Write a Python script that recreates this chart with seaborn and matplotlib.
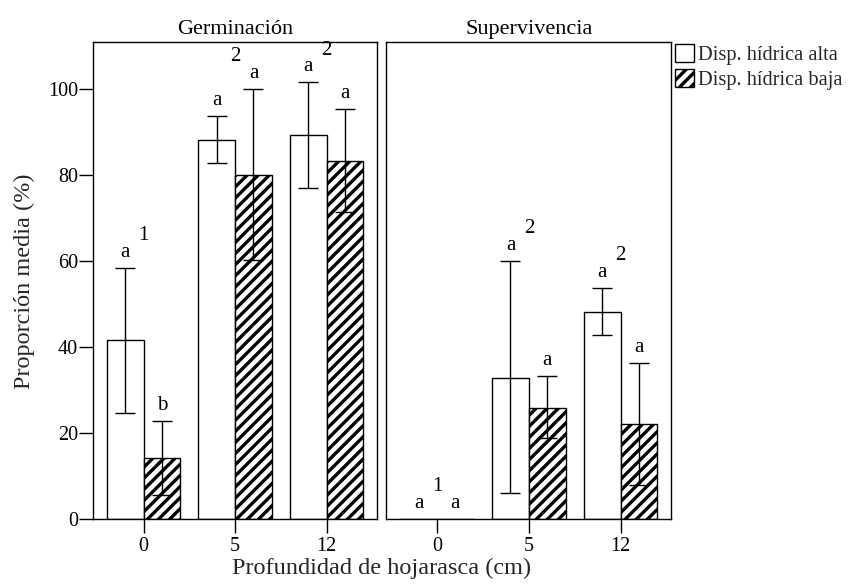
import numpy as np
import pandas as pd
import matplotlib
matplotlib.use("Agg")
import matplotlib.pyplot as plt
import seaborn as sns
from matplotlib.patches import Patch

# ---- data ----
depths = ["0", "5", "12"]
series = ["Disp. hídrica alta", "Disp. hídrica baja"]
panels = ["Germinación", "Supervivencia"]

germ_alta = [41.6, 88.3, 89.3]
germ_baja = [14.2, 80.0, 83.3]
germ_alta_hi = [58.4, 93.8, 101.6]
germ_alta_lo = [24.6, 82.8, 77.1]
germ_baja_hi = [22.8, 100.1, 95.5]
germ_baja_lo = [5.6, 60.2, 71.4]

sup_alta = [0.0, 32.9, 48.2]
sup_baja = [0.0, 25.9, 22.1]
sup_alta_hi = [0.0, 60.1, 53.8]
sup_alta_lo = [0.0, 6.0, 42.9]
sup_baja_hi = [0.0, 33.3, 36.3]
sup_baja_lo = [0.0, 18.9, 8.0]

germ_letters_alta = ["a", "a", "a"]
germ_letters_baja = ["b", "a", "a"]
germ_groups = ["1", "2", "2"]
sup_letters_alta = ["a", "a", "a"]
sup_letters_baja = ["a", "a", "a"]
sup_groups = ["1", "2", "2"]

sns.set_theme(style="white")
plt.rcParams["font.family"] = ["Liberation Serif", "DejaVu Serif"]
plt.rcParams["hatch.linewidth"] = 2.4
plt.rcParams["hatch.color"] = "black"

fig = plt.figure(figsize=(8.55, 5.85), dpi=100)
ax1 = fig.add_axes([0.109, 0.113, 0.332, 0.815])
ax2 = fig.add_axes([0.452, 0.113, 0.333, 0.815])

panel_data = [
    (ax1, germ_alta, germ_baja, germ_alta_hi, germ_alta_lo, germ_baja_hi, germ_baja_lo,
     germ_letters_alta, germ_letters_baja, germ_groups, panels[0]),
    (ax2, sup_alta, sup_baja, sup_alta_hi, sup_alta_lo, sup_baja_hi, sup_baja_lo,
     sup_letters_alta, sup_letters_baja, sup_groups, panels[1]),
]

for (ax, va, vb, ahi, alo, bhi, blo, la, lb, gr, title) in panel_data:
    df = pd.DataFrame({
        "depth": depths * 2,
        "disp": [series[0]] * 3 + [series[1]] * 3,
        "value": list(va) + list(vb),
    })
    sns.barplot(data=df, x="depth", y="value", hue="disp", order=depths,
                hue_order=series, ax=ax, errorbar=None, legend=False,
                palette=["white", "white"], edgecolor="black", linewidth=1.0,
                saturation=1, width=0.8)
    bar_conts = list(ax.containers)
    for i, cont in enumerate(bar_conts):
        for p in cont.patches:
            p.set_facecolor("white")
            p.set_edgecolor("black")
            if i == 1:
                p.set_hatch("///")
    his = [ahi, bhi]
    los = [alo, blo]
    means = [va, vb]
    lets = [la, lb]
    for i, cont in enumerate(bar_conts):
        xs = np.array([p.get_x() + p.get_width() / 2 for p in cont.patches])
        m = np.array(means[i])
        hi = np.array(his[i])
        lo = np.array(los[i])
        mask = hi > 0
        ax.errorbar(xs[mask], m[mask],
                    yerr=[m[mask] - lo[mask], hi[mask] - m[mask]],
                    fmt="none", ecolor="black", elinewidth=1.0, capsize=7,
                    capthick=1.0, zorder=5)
        for x, h, t in zip(xs, hi, lets[i]):
            ax.text(x, h + 2.6, t, ha="center", va="baseline", fontsize=15,
                    color="black")
    for j, g in enumerate(gr):
        top = max(ahi[j], bhi[j])
        ax.text(j, top + 6.5, g, ha="center", va="baseline", fontsize=15,
                color="black")
    ax.set_ylim(0, 111)
    ax.set_xlim(-0.55, 2.55)
    ax.set_xlabel("")
    ax.set_ylabel("")
    ax.set_title(title, fontsize=16, pad=6, color="black")
    for s in ax.spines.values():
        s.set_visible(True)
        s.set_color("black")
        s.set_linewidth(1.0)
    ax.tick_params(axis="x", direction="out", length=10, width=1.0,
                   labelsize=14.5, colors="black", bottom=True, pad=3)

ax1.set_yticks([0, 20, 40, 60, 80, 100])
ax1.tick_params(axis="y", direction="out", length=10, width=1.0,
                labelsize=14.5, colors="black", left=True, pad=1)
ax2.set_yticks([])

fig.text(0.446, 0.028, "Profundidad de hojarasca (cm)", ha="center",
         va="center", fontsize=17.5)
fig.text(0.028, 0.52, "Proporción media (%)", ha="center", va="center",
         rotation=90, fontsize=17.5)

handles = [Patch(facecolor="white", edgecolor="black", linewidth=1.0),
           Patch(facecolor="white", edgecolor="black", hatch="///", linewidth=1.0)]
ax2.legend(handles, series, loc="upper left", bbox_to_anchor=(1.005, 1.0),
           frameon=False, fontsize=14.7, handlelength=0.95, handleheight=0.95,
           handletextpad=0.2, labelspacing=0.22, borderaxespad=0.0,
           borderpad=0.1)

fig.savefig("out.png", dpi=100)
